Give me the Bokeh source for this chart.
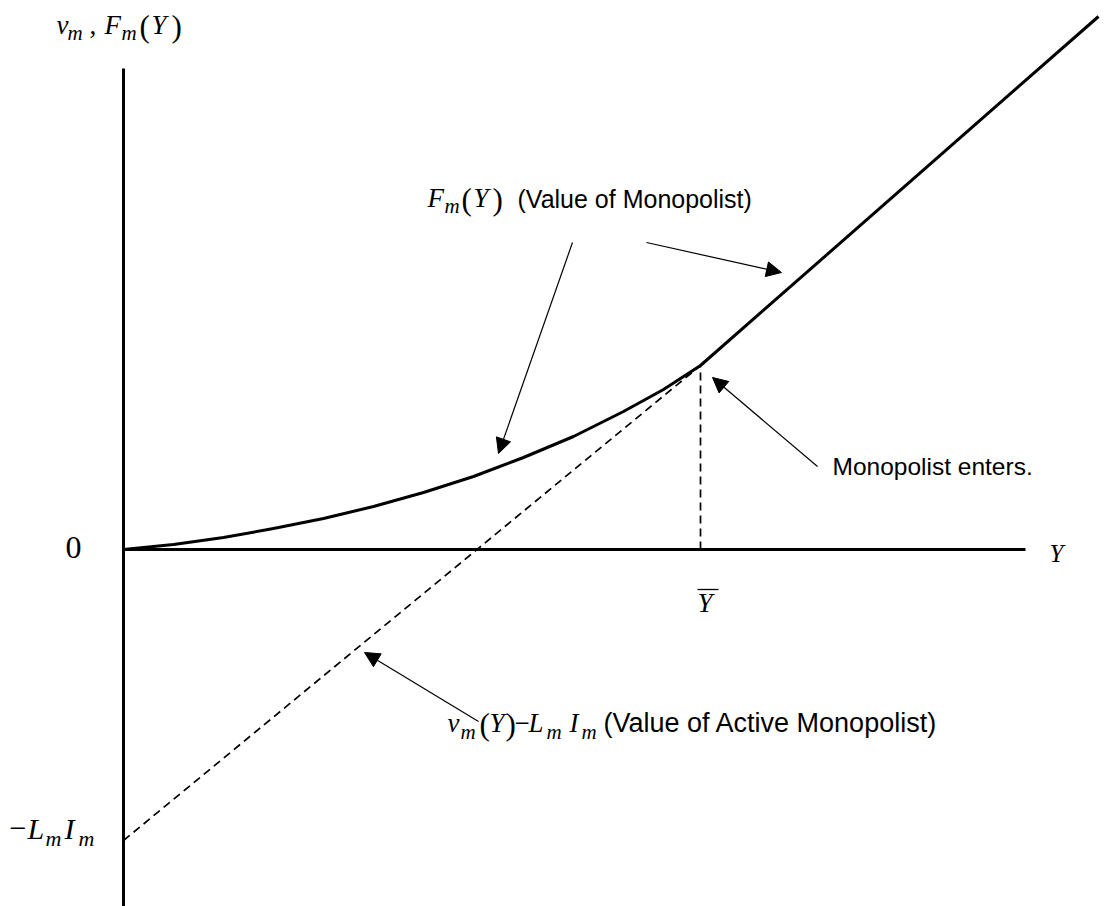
from bokeh.plotting import figure
from bokeh.models import Range1d, Arrow, NormalHead
from bokeh.core.properties import value
from bokeh.embed import file_html
from bokeh.resources import INLINE

# ---- model values (diagram units) ----
# value of the monopolist's option, F_m(Y), below the entry threshold
y_curve = [0.0, 0.5, 1.0, 1.5, 2.0, 2.5, 3.0, 3.5, 4.0, 4.5, 5.0, 5.4, 5.77]
f_curve = [0.0, 0.05, 0.12, 0.21, 0.31, 0.43, 0.57, 0.73, 0.92, 1.13, 1.38, 1.60, 1.84]
# entry threshold Y-bar and the sunk cost L_m I_m
y_bar = 5.77
lm_im = 2.91
# active monopolist value v_m(Y) - L_m I_m (straight line)
y_active = [0.0, y_bar]
v_active = [-lm_im, 1.84]
# F_m(Y) above the threshold coincides with the active value
y_upper = [y_bar, 9.75]
f_upper = [1.84, 5.33]
# axis extents
y_axis_end = 9.02
v_axis_top = 4.81
v_axis_bottom = -3.6

W, H = 1104, 906
X0, V0 = 123, 549   # pixel position of the origin
SC = 100.0          # pixels per diagram unit


def X(px):
    return (px - X0) / SC


def V(py):
    return (V0 - py) / SC


p = figure(width=W, height=H, x_range=Range1d(X(0), X(W)), y_range=Range1d(V(H), V(0)),
           output_backend="svg", toolbar_location=None, min_border=0,
           x_axis_type=None, y_axis_type=None)
p.grid.visible = False
p.outline_line_color = None
p.background_fill_color = "white"
p.border_fill_color = "white"

# axes
p.line([0, 0], [v_axis_bottom, v_axis_top], line_width=3, line_color="black")
p.line([0, y_axis_end], [0, 0], line_width=3, line_color="black")

# dashed active-value line and threshold marker
p.line(y_active, v_active, line_width=1.7, line_color="black", line_dash="8 5")
p.line([y_bar, y_bar], [0, f_curve[-1]], line_width=1.7, line_color="black", line_dash="8 5")

# value of monopolist
p.line(y_curve, f_curve, line_width=3, line_color="black", line_join="round")
p.line(y_upper, f_upper, line_width=3, line_color="black")

# pointer arrows
for (x1, y1, x2, y2) in [(572, 242, 498, 453), (646, 242, 781, 272),
                         (817, 466, 712, 377), (478, 721, 364, 652)]:
    p.add_layout(Arrow(end=NormalHead(size=15, fill_color="black", line_color="black", line_width=1),
                       x_start=X(x1), y_start=V(y1), x_end=X(x2), y_end=V(y2),
                       line_width=1.2, line_color="black"))

SERIF = value("Liberation Serif")
SANS = value("Liberation Sans")


def put(px, py, s, size, font=SERIF, style="italic", align="left"):
    # py is the intended baseline in pixels from the top
    p.text(x=[X(px)], y=[V(py - 0.4 * size)], text=[s], text_font=font, text_font_style=style,
           text_font_size=f"{size}px", text_align=align, text_baseline="alphabetic",
           text_color="black")


MAIN, SUB, PAR = 27, 21, 31

# vertical axis title: v_m, F_m(Y)
put(56, 35, "v", MAIN)
put(67, 41, "m", SUB)
put(89, 35, ",", MAIN, style="normal")
put(104, 35, "F", MAIN)
put(121, 41, "m", SUB)
put(139, 38, "(", PAR, style="normal")
put(151, 35, "Y", MAIN)
put(171, 38, ")", PAR, style="normal")

# F_m(Y) (Value of Monopolist)
put(427, 208, "F", MAIN)
put(444, 214, "m", SUB)
put(461, 211, "(", PAR, style="normal")
put(473, 208, "Y", MAIN)
put(492, 211, ")", PAR, style="normal")
put(517, 208, "(Value of Monopolist)", 25, font=SANS, style="normal")

# v_m(Y) - L_m I_m (Value of Active Monopolist)
put(447, 733, "v", MAIN)
put(460, 740, "m", SUB)
put(479, 736, "(", PAR, style="normal")
put(489, 733, "Y", MAIN)
put(505, 736, ")", PAR, style="normal")
put(514, 733, "\u2212", MAIN, style="normal")
put(528, 733, "L", MAIN)
put(546, 740, "m", SUB)
put(569, 733, "I", MAIN)
put(581, 740, "m", SUB)
put(603, 733, "(Value of Active Monopolist)", 27, font=SANS, style="normal")

# Monopolist enters.
put(832, 476, "Monopolist enters.", 24.5, font=SANS, style="normal")

# -L_m I_m intercept label
put(9, 840, "\u2212", 30, style="normal")
put(27, 840, "L", 30)
put(45, 847, "m", SUB + 1)
put(64, 840, "I", 30)
put(78, 847, "m", SUB + 1)

# origin and horizontal axis labels
put(65, 560, "0", 32, style="normal")
put(1049, 563, "Y", 25)
put(697, 613, "Y", MAIN)
p.line([X(697), X(718)], [V(589), V(589)], line_width=1.3, line_color="black")

open("out.html", "w").write(file_html(p, INLINE))
